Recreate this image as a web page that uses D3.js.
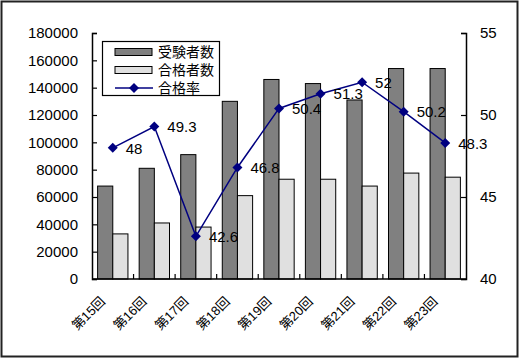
<!DOCTYPE html>
<html><head><meta charset="utf-8">
<script src="https://cdn.jsdelivr.net/npm/d3@7"></script>
<style>body{margin:0;background:#fff}svg{display:block}</style>
</head><body>
<svg id="c" width="520" height="359"></svg>
<script>
const categories = ["第15回","第16回","第17回","第18回","第19回","第20回","第21回","第22回","第23回"];
const examinees = [68000, 81000, 91000, 130000, 146000, 143000, 131000, 154000, 154000];
const passers   = [33000, 41000, 38000, 61000, 73000, 73000, 68000, 77500, 74500];
const passRate  = [48, 49.3, 42.6, 46.8, 50.4, 51.3, 52, 50.2, 48.3];
const leftTicks = [0,20000,40000,60000,80000,100000,120000,140000,160000,180000];
const rightTicks = [40,45,50,55];
const seriesNames = ["受験者数","合格者数","合格率"];

const font = "'Liberation Sans','Noto Sans CJK JP',Arial,sans-serif";
const svg = d3.select("#c");
const L = 92, R = 466, T = 33, B = 279;

svg.append("rect").attr("x",1.5).attr("y",1.5).attr("width",516).attr("height",355)
  .attr("fill","#fff").attr("stroke","#222").attr("stroke-width",2);

const x = d3.scaleBand().domain(categories).range([L,R]);
const xb = d3.scaleBand().domain([0,1]).range([0, x.bandwidth()]).paddingInner(0).paddingOuter(0.37);
const y = d3.scaleLinear().domain([0,180000]).range([B,T]);
const y2 = d3.scaleLinear().domain([40,55]).range([B,T]);

const g = svg.append("g");
categories.forEach((c,i)=>{
  g.append("rect").attr("x",x(c)+xb(0)).attr("y",y(examinees[i]))
    .attr("width",xb.bandwidth()).attr("height",B-y(examinees[i]))
    .attr("fill","#808080").attr("stroke","#000").attr("stroke-width",1);
  g.append("rect").attr("x",x(c)+xb(1)).attr("y",y(passers[i]))
    .attr("width",xb.bandwidth()).attr("height",B-y(passers[i]))
    .attr("fill","#e0e0e0").attr("stroke","#000").attr("stroke-width",1);
});

const axL = svg.append("g").attr("transform",`translate(${L},0)`)
  .call(d3.axisLeft(y).tickValues(leftTicks).tickSize(-5).tickPadding(14).tickFormat(d3.format("d")));
const axR = svg.append("g").attr("transform",`translate(${R},0)`)
  .call(d3.axisRight(y2).tickValues(rightTicks).tickSize(-5).tickPadding(14));
const axB = svg.append("g").attr("transform",`translate(0,${B})`)
  .call(d3.axisBottom(x).tickSize(0).tickFormat(""));
[axL,axR,axB].forEach(a=>{
  a.select(".domain").attr("stroke","#000").attr("stroke-width",1.5);
  a.selectAll(".tick line").attr("stroke","#000").attr("stroke-width",1.2);
  a.selectAll("text").attr("font-family",font).attr("font-size",15).attr("fill","#000");
});
axB.select(".domain").attr("d",`M${L},0H${R}`);
svg.append("g").selectAll("line").data(categories.slice(1)).join("line")
  .attr("x1",d=>x(d)).attr("x2",d=>x(d)).attr("y1",B).attr("y2",B-5)
  .attr("stroke","#000").attr("stroke-width",1.2);

// x labels rotated -45°
svg.append("g").selectAll("text").data(categories).join("text")
  .attr("transform",d=>`translate(${x(d)+x.bandwidth()/2-10},${B+20}) rotate(-45)`)
  .attr("text-anchor","end").attr("dy","0.35em").attr("fill","#000")
  .attr("font-family",font).attr("font-size",13).text(d=>d);

const cx = d=>x(d)+x.bandwidth()/2;
const line = d3.line().x((d,i)=>cx(categories[i])).y(d=>y2(d));
svg.append("path").datum(passRate).attr("d",line).attr("fill","none")
  .attr("stroke","#000080").attr("stroke-width",1.5);
svg.append("g").selectAll("path").data(passRate).join("path")
  .attr("transform",(d,i)=>`translate(${cx(categories[i])},${y2(d)}) rotate(45)`)
  .attr("d",d3.symbol().type(d3.symbolSquare).size(50)).attr("fill","#000080");
svg.append("g").selectAll("text").data(passRate).join("text")
  .attr("x",(d,i)=>cx(categories[i])+13).attr("y",d=>y2(d)).attr("dy","0.38em")
  .attr("font-family",font).attr("font-size",15).text(d=>d);

const lg = svg.append("g");
lg.append("rect").attr("x",102.5).attr("y",41.5).attr("width",117).attr("height",54)
  .attr("fill","#fff").attr("stroke","#000").attr("stroke-width",1.2);
const rows = [52, 70, 88];
lg.append("rect").attr("x",115).attr("y",rows[0]-3.5).attr("width",37).attr("height",7)
  .attr("fill","#808080").attr("stroke","#000");
lg.append("rect").attr("x",115).attr("y",rows[1]-3.5).attr("width",37).attr("height",7)
  .attr("fill","#e0e0e0").attr("stroke","#000");
lg.append("line").attr("x1",115).attr("x2",153).attr("y1",rows[2]).attr("y2",rows[2])
  .attr("stroke","#000080").attr("stroke-width",1.5);
lg.append("path").attr("transform",`translate(134,${rows[2]}) rotate(45)`)
  .attr("d",d3.symbol().type(d3.symbolSquare).size(50)).attr("fill","#000080");
lg.selectAll("text").data(seriesNames).join("text")
  .attr("x",158).attr("y",(d,i)=>rows[i]).attr("dy","0.36em")
  .attr("font-family",font).attr("font-size",14).text(d=>d);
</script>
</body></html>
